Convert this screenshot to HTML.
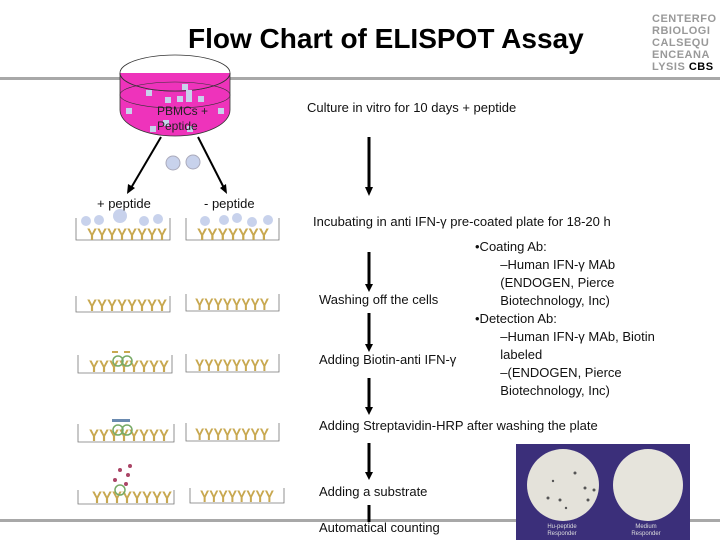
<!DOCTYPE html>
<html><head><style>
body{margin:0;width:720px;height:540px;overflow:hidden;background:#fff;font-family:"Liberation Sans",sans-serif;position:relative}
.t{position:absolute;font-size:13px;color:#111;white-space:nowrap}
.l{position:absolute;left:0;width:720px;height:3px;background:#a8a8a8}
</style></head><body>
<div class="l" style="top:77px"></div>
<div class="l" style="top:519px"></div>
<div class="t" style="left:188px;top:23px;font-size:28px;font-weight:bold;color:#000">Flow Chart of ELISPOT Assay</div>
<div class="t" style="left:652px;top:13px;font-size:11px;line-height:12px;color:#999;letter-spacing:0.5px;font-weight:bold">CENTERFO<br>RBIOLOGI<br>CALSEQU<br>ENCEANA<br>LYSIS <span style="color:#000">CBS</span></div>
<svg width="720" height="540" style="position:absolute;left:0;top:0">
<ellipse cx="175" cy="73" rx="55" ry="18" fill="#fff" stroke="#333" stroke-width="0.8"/>
<path d="M120 73 A55 18 0 0 0 230 73 L230 110 A55 26 0 0 1 120 110Z" fill="#ee33bb" stroke="#333" stroke-width="0.8"/>
<path d="M120 73 A55 18 0 0 0 230 73" fill="#ee33bb" stroke="#333" stroke-width="0.8"/>
<ellipse cx="175" cy="95" rx="55" ry="13" fill="none" stroke="#333" stroke-width="0.6"/>
<g fill="#c8d2ec"><rect x="146" y="90" width="6" height="6"/><rect x="165" y="97" width="6" height="6"/><rect x="177" y="96" width="6" height="6"/><rect x="186" y="90" width="6" height="12"/><rect x="198" y="96" width="6" height="6"/><rect x="126" y="108" width="6" height="6"/><rect x="218" y="108" width="6" height="6"/><rect x="150" y="126" width="6" height="6"/><rect x="187" y="126" width="6" height="6"/><rect x="163" y="120" width="6" height="6"/><rect x="182" y="84" width="6" height="6"/></g>
<g stroke="#000" stroke-width="2"><line x1="161" y1="137" x2="131" y2="188"/><line x1="198" y1="137" x2="224" y2="188"/></g>
<polygon points="127,194 128,184 135,188" fill="#000"/><polygon points="227,194 220,188 226,184" fill="#000"/>
<circle cx="173" cy="163" r="7" fill="#c8d2ec" stroke="#aab" /><circle cx="193" cy="162" r="7" fill="#c8d2ec" stroke="#aab"/>
<g stroke="#000" stroke-width="3">
<line x1="369" y1="137" x2="369" y2="188"/><line x1="369" y1="252" x2="369" y2="285"/><line x1="369" y1="313" x2="369" y2="345"/><line x1="369" y1="378" x2="369" y2="408"/><line x1="369" y1="443" x2="369" y2="473"/><line x1="369" y1="505" x2="369" y2="522"/></g>
<g fill="#000"><polygon points="365,187 373,187 369,196"/><polygon points="365,284 373,284 369,292"/><polygon points="365,344 373,344 369,352"/><polygon points="365,407 373,407 369,415"/><polygon points="365,472 373,472 369,480"/></g>
<g fill="none" stroke="#777" stroke-width="0.8">
<path d="M76 218 L76 240 L170 240 L170 218"/><path d="M186 218 L186 240 L279 240 L279 218"/>
<path d="M76 296 L76 312 L170 312 L170 296"/><path d="M186 294 L186 311 L279 311 L279 294"/>
<path d="M78 355 L78 373 L172 373 L172 355"/><path d="M186 354 L186 372 L279 372 L279 354"/>
<path d="M78 424 L78 442 L174 442 L174 424"/><path d="M186 423 L186 441 L279 441 L279 423"/>
<path d="M78 490 L78 504 L174 504 L174 490"/><path d="M190 488 L190 503 L284 503 L284 488"/></g>
<g font-family="Liberation Sans" font-size="17" fill="#c8a850" font-weight="bold">
<text x="87" y="240" textLength="80" lengthAdjust="spacingAndGlyphs">YYYYYYYY</text><text x="197" y="240" textLength="72" lengthAdjust="spacingAndGlyphs">YYYYYYY</text>
<text x="87" y="311" textLength="80" lengthAdjust="spacingAndGlyphs">YYYYYYYY</text><text x="195" y="310" textLength="74" lengthAdjust="spacingAndGlyphs">YYYYYYYY</text>
<text x="89" y="372" textLength="80" lengthAdjust="spacingAndGlyphs">YYYYYYYY</text><text x="195" y="371" textLength="74" lengthAdjust="spacingAndGlyphs">YYYYYYYY</text>
<text x="89" y="441" textLength="80" lengthAdjust="spacingAndGlyphs">YYYYYYYY</text><text x="195" y="440" textLength="74" lengthAdjust="spacingAndGlyphs">YYYYYYYY</text>
<text x="92" y="503" textLength="80" lengthAdjust="spacingAndGlyphs">YYYYYYYY</text><text x="200" y="502" textLength="74" lengthAdjust="spacingAndGlyphs">YYYYYYYY</text></g>
<g fill="#c8d2ec"><circle cx="86" cy="221" r="5"/><circle cx="99" cy="220" r="5"/><circle cx="120" cy="216" r="7"/><circle cx="144" cy="221" r="5"/><circle cx="158" cy="219" r="5"/><circle cx="205" cy="221" r="5"/><circle cx="224" cy="220" r="5"/><circle cx="237" cy="218" r="5"/><circle cx="252" cy="222" r="5"/><circle cx="268" cy="220" r="5"/></g>
<g fill="none" stroke="#7a6" stroke-width="1.5"><circle cx="118" cy="361" r="5"/><circle cx="127" cy="361" r="5"/><circle cx="118" cy="430" r="5"/><circle cx="127" cy="430" r="5"/><circle cx="120" cy="490" r="5"/></g>
<g fill="#c8a850"><rect x="112" y="351" width="6" height="2"/><rect x="124" y="351" width="6" height="2"/></g>
<g fill="#6a8ab0"><rect x="112" y="419" width="18" height="3"/></g>
<g fill="#a46"><circle cx="120" cy="470" r="2"/><circle cx="128" cy="475" r="2"/><circle cx="115" cy="480" r="2"/><circle cx="126" cy="484" r="2"/><circle cx="130" cy="466" r="2"/></g>
<rect x="516" y="444" width="174" height="96" fill="#3b2f7a"/>
<ellipse cx="563" cy="485" rx="36" ry="36" fill="#e4e2da"/><ellipse cx="648" cy="485" rx="35" ry="36" fill="#e6e4dc"/>
<g fill="#555"><circle cx="575" cy="473" r="1.5"/><circle cx="548" cy="498" r="1.5"/><circle cx="560" cy="500" r="1.5"/><circle cx="585" cy="488" r="1.5"/><circle cx="594" cy="490" r="1.5"/><circle cx="553" cy="481" r="1.2"/><circle cx="588" cy="500" r="1.5"/><circle cx="566" cy="508" r="1.2"/></g>
<text x="562" y="528" font-size="6" fill="#ddd" text-anchor="middle" font-family="Liberation Sans">Hu-peptide</text><text x="562" y="535" font-size="6" fill="#ddd" text-anchor="middle" font-family="Liberation Sans">Responder</text>
<text x="646" y="528" font-size="6" fill="#ddd" text-anchor="middle" font-family="Liberation Sans">Medium</text><text x="646" y="535" font-size="6" fill="#ddd" text-anchor="middle" font-family="Liberation Sans">Responder</text>
</svg>
<div class="t" style="left:157px;top:104px;font-size:12px;line-height:15px;color:#222">PBMCs +<br>Peptide</div>
<div class="t" style="left:97px;top:196px">+ peptide</div>
<div class="t" style="left:204px;top:196px">- peptide</div>
<div class="t" style="left:307px;top:100px">Culture in vitro for 10 days + peptide</div>
<div class="t" style="left:313px;top:214px">Incubating in anti IFN-γ pre-coated plate for 18-20 h</div>
<div class="t" style="left:475px;top:238px;line-height:18px">•Coating Ab:<br>&nbsp;&nbsp;&nbsp;&nbsp;&nbsp;&nbsp;&nbsp;–Human IFN-γ MAb<br>&nbsp;&nbsp;&nbsp;&nbsp;&nbsp;&nbsp;&nbsp;(ENDOGEN, Pierce<br>&nbsp;&nbsp;&nbsp;&nbsp;&nbsp;&nbsp;&nbsp;Biotechnology, Inc)<br>•Detection Ab:<br>&nbsp;&nbsp;&nbsp;&nbsp;&nbsp;&nbsp;&nbsp;–Human IFN-γ MAb, Biotin<br>&nbsp;&nbsp;&nbsp;&nbsp;&nbsp;&nbsp;&nbsp;labeled<br>&nbsp;&nbsp;&nbsp;&nbsp;&nbsp;&nbsp;&nbsp;–(ENDOGEN, Pierce<br>&nbsp;&nbsp;&nbsp;&nbsp;&nbsp;&nbsp;&nbsp;Biotechnology, Inc)</div>
<div class="t" style="left:319px;top:292px">Washing off the cells</div>
<div class="t" style="left:319px;top:352px">Adding Biotin-anti IFN-γ</div>
<div class="t" style="left:319px;top:418px">Adding Streptavidin-HRP after washing the plate</div>
<div class="t" style="left:319px;top:484px">Adding a substrate</div>
<div class="t" style="left:319px;top:520px">Automatical counting</div>
</body></html>
